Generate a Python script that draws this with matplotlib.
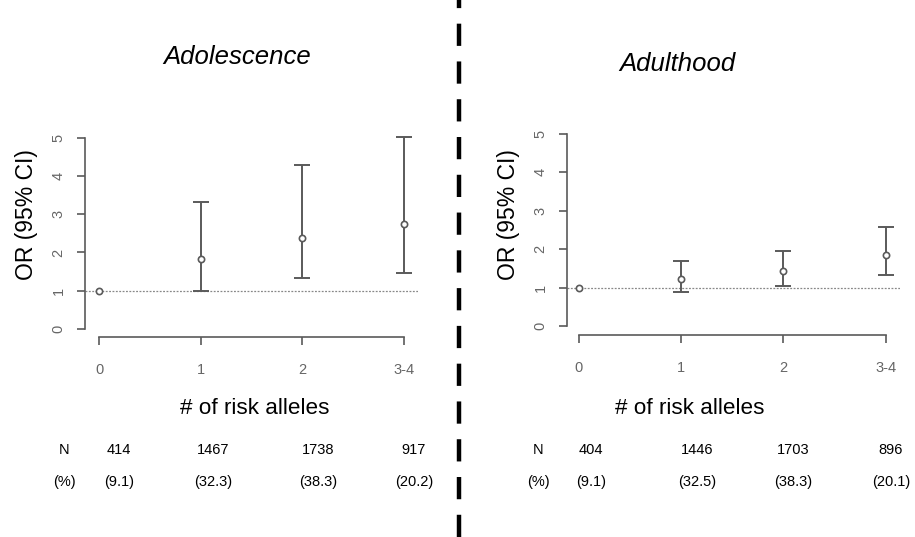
import matplotlib.pyplot as plt

plt.rcParams['font.family'] = ['Liberation Sans', 'DejaVu Sans']

# Datos
categorias = ['0', '1', '2', '3-4']

or_adol = [1.0, 1.82, 2.38, 2.74]
low_adol = [1.0, 0.98, 1.33, 1.46]
up_adol = [1.0, 3.31, 4.30, 5.03]
n_adol = ['414', '1467', '1738', '917']
pct_adol = ['(9.1)', '(32.3)', '(38.3)', '(20.2)']

or_adult = [1.0, 1.22, 1.42, 1.85]
low_adult = [1.0, 0.89, 1.05, 1.33]
up_adult = [1.0, 1.68, 1.95, 2.58]
n_adult = ['404', '1446', '1703', '896']
pct_adult = ['(9.1)', '(32.5)', '(38.3)', '(20.1)']

W, H = 915, 537
fig = plt.figure(figsize=(W / 100, H / 100), dpi=100)

gris = '#5a5a5a'
gris_txt = '#666666'


def px(x0, y_top, x1, y_bot):
    # caja en pixeles -> fraccion de figura
    return [x0 / W, 1 - y_bot / H, (x1 - x0) / W, (y_bot - y_top) / H]


def panel(rect, xmin, ymin, titulo, tx, ty, orv, low, up, ns, pcts, npos, ylab_x):
    ax = fig.add_axes(rect)
    x = list(range(len(categorias)))
    ax.axhline(1, color='#888888', lw=0.9, ls=(0, (1.5, 1.2)), zorder=1)
    yerr = [[o - l for o, l in zip(orv, low)], [u - o for u, o in zip(up, orv)]]
    ax.errorbar(x[1:], orv[1:], yerr=[yerr[0][1:], yerr[1][1:]], fmt='none',
                ecolor=gris, elinewidth=1.4, capsize=5.5, capthick=1.4, zorder=2)
    ax.plot(x, orv, 'o', ms=4.5, mfc='white', mec=gris, mew=1.2, zorder=3)
    ax.set_xlim(xmin, 3.14)
    ax.set_ylim(ymin, 5.15)
    for s in ['top', 'right']:
        ax.spines[s].set_visible(False)
    ax.spines['left'].set_bounds(0, 5)
    ax.spines['bottom'].set_bounds(0, 3)
    for s in ['left', 'bottom']:
        ax.spines[s].set_color(gris)
        ax.spines[s].set_linewidth(1.2)
    ax.set_xticks(x)
    ax.set_xticklabels(categorias)
    ax.set_yticks(range(6))
    ax.set_yticklabels([str(i) for i in range(6)], rotation=90, va='center')
    ax.tick_params(axis='both', colors=gris, labelcolor=gris_txt, labelsize=10.5,
                   length=6, width=1.2)
    ax.tick_params(axis='x', pad=13)
    ax.tick_params(axis='y', pad=8)
    ax.patch.set_alpha(0)

    fig.text(tx / W, 1 - ty / H, titulo, fontsize=18.5, style='italic',
             ha='center', va='center')
    fig.text(ylab_x / W, 1 - 215 / H, 'OR (95% CI)', fontsize=16.5,
             rotation=90, ha='center', va='center')
    fig.text(npos[0] / W, 1 - 408 / H, '# of risk alleles', fontsize=16.2,
             ha='center', va='center')
    fig.text(npos[1] / W, 1 - 450 / H, 'N', fontsize=10.5, ha='center', va='center')
    fig.text(npos[1] / W, 1 - 482 / H, '(%)', fontsize=10.5, ha='center', va='center')
    for xp, n, p in zip(npos[2:], ns, pcts):
        fig.text(xp / W, 1 - 450 / H, n, fontsize=10.5, ha='center', va='center')
        fig.text(xp / W, 1 - 482 / H, p, fontsize=10.5, ha='center', va='center')
    return ax


panel(px(85, 132, 418, 337), -0.138, -0.21, 'Adolescence', 237, 57,
      or_adol, low_adol, up_adol, n_adol, pct_adol,
      [255, 64, 119, 213, 318, 414], 26)

panel(px(567, 128, 900, 335), -0.117, -0.234, 'Adulthood', 677, 64,
      or_adult, low_adult, up_adult, n_adult, pct_adult,
      [690, 538, 591, 697, 793, 891], 508)

# linea divisoria
fig.add_artist(plt.Line2D([459 / W, 459 / W], [0, 1], color='black', lw=3.2,
                          ls=(0, (5, 3.5)), transform=fig.transFigure))

plt.savefig('out.png', dpi=100)
